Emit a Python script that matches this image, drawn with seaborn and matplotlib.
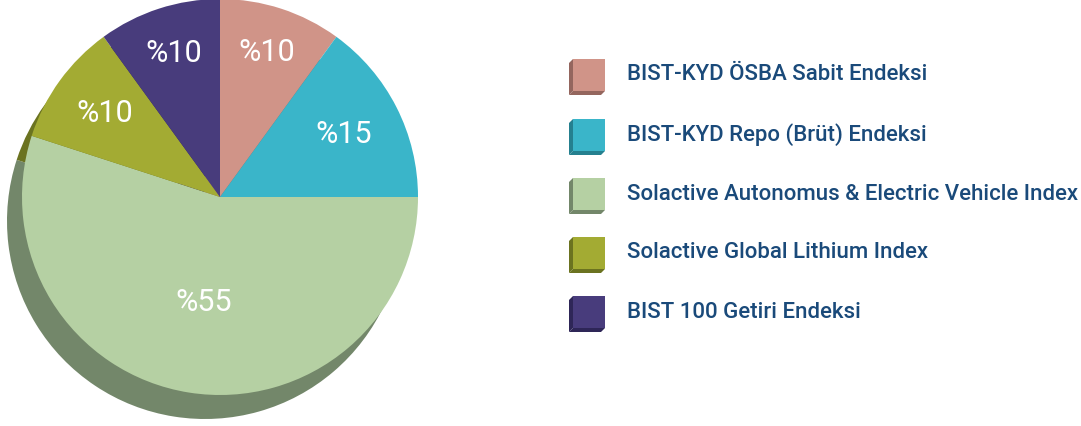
import numpy as np
import matplotlib
matplotlib.use("Agg")
import matplotlib.pyplot as plt
import seaborn as sns
from matplotlib.patches import Polygon

# data
labels = [
    "BIST-KYD ÖSBA Sabit Endeksi",
    "BIST-KYD Repo (Brüt) Endeksi",
    "Solactive Autonomus & Electric Vehicle Index",
    "Solactive Global Lithium Index",
    "BIST 100 Getiri Endeksi",
]
shares = [10, 15, 55, 10, 10]
pct_labels = ["%10", "%15", "%55", "%10", "%10"]

# styling
colors = ["#d09488", "#3ab5c9", "#b5d0a3", "#a3ab33", "#483c7c"]
dark_colors = ["#94665e", "#25808f", "#73876a", "#6b7320", "#2e2657"]
label_dist = [0.77, 0.70, 0.54, 0.72, 0.76]

sns.set_theme(style="white")
plt.rcParams["font.family"] = ["Roboto", "DejaVu Sans"]

W, H = 1081, 426
fig = plt.figure(figsize=(W / 100, H / 100), dpi=100)
ax = fig.add_axes([0, 0, 1, 1])

cx, cy, r = 220, H - 197, 198

# shadow / extrusion
ax.pie(shares, colors=dark_colors, startangle=90, counterclock=False,
       center=(cx - 15, cy - 24), radius=r, wedgeprops=dict(linewidth=0))
wedges, _ = ax.pie(shares, colors=colors, startangle=90, counterclock=False,
                   center=(cx, cy), radius=r, wedgeprops=dict(linewidth=0))

for w, txt, d in zip(wedges, pct_labels, label_dist):
    ang = np.deg2rad((w.theta1 + w.theta2) / 2)
    ax.text(cx + d * r * np.cos(ang), cy + d * r * np.sin(ang), txt,
            color="white", fontsize=22, ha="center", va="center")

# legend with bevelled squares
row_y = [76, 136, 195, 254, 313]
for yc, lab, c, dc in zip(row_y, labels, colors, dark_colors):
    y = H - yc
    x0, x1 = 573, 605
    top, bot = y + 17, y - 15
    ax.add_patch(Polygon([(x0 - 4, top - 4), (x0, top), (x0, bot), (x0 - 4, bot - 4)],
                         closed=True, facecolor=dc, edgecolor="none"))
    ax.add_patch(Polygon([(x0 - 4, bot - 4), (x0, bot), (x1, bot), (x1 - 4, bot - 4)],
                         closed=True, facecolor=dc, edgecolor="none"))
    ax.add_patch(Polygon([(x0, top), (x1, top), (x1, bot), (x0, bot)],
                         closed=True, facecolor=c, edgecolor="none"))
    ax.text(627, y + 1, lab, color="#1a4a7a", fontsize=16, fontweight="medium",
            ha="left", va="center")

ax.set_xlim(0, W)
ax.set_ylim(0, H)
ax.set_aspect("equal")
ax.axis("off")

fig.savefig("out.png", dpi=100)
